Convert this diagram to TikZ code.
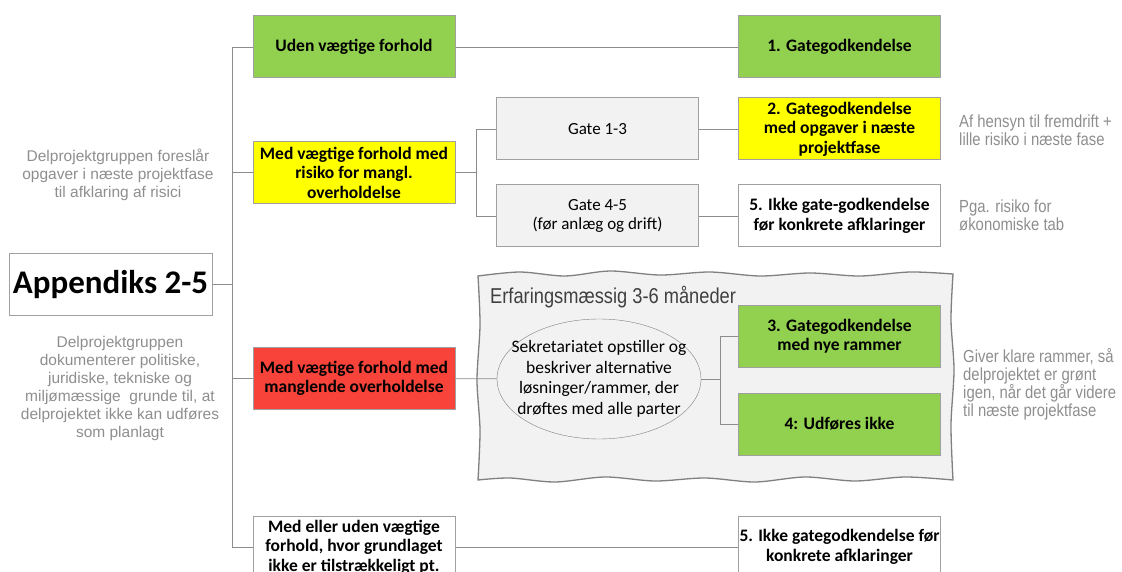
\documentclass[tikz,border=0pt]{standalone}
\usepackage{fontspec}
\setmainfont{Carlito}
\newfontfamily\notefont{Liberation Sans}
\newfontfamily\narrowfont[FakeStretch=0.85]{Liberation Sans}
\usetikzlibrary{shapes.geometric}

\definecolor{boxgreen}{HTML}{92D050}
\definecolor{boxyellow}{HTML}{FFFF00}
\definecolor{boxred}{HTML}{F8433A}
\definecolor{boxgray}{HTML}{F2F2F2}
\definecolor{boxline}{HTML}{A0A0A0}
\definecolor{linegray}{HTML}{8C8C8C}
\definecolor{textgray}{HTML}{8E8E8E}

\begin{document}
\begin{tikzpicture}[x=1pt,y=-1pt,
  box/.style={draw=boxline, line width=1pt, minimum width=202pt, minimum height=62pt,
    inner sep=1pt, align=center, font=\fontsize{17.5}{19.5}\selectfont\bfseries},
  gatebox/.style={box, fill=boxgray, font=\fontsize{17}{19.5}\selectfont},
  conn/.style={draw=linegray, line width=0.9pt},
  note/.style={text=textgray, align=center, font=\notefont\fontsize{15.5}{18}\selectfont},
  sidenote/.style={text=textgray, align=left, anchor=west, inner sep=0pt,
    font=\narrowfont\fontsize{17.5}{18}\selectfont}]

  \useasboundingbox (0,0) rectangle (1122,572);
  \clip (0,0) rectangle (1122,572);

  % Waved frame
  \draw[draw=gray, fill=boxgray, line width=1.3pt]
    plot[smooth] coordinates {(478,276) (520,272) (565,276) (610,271) (660,275) (710,272)
      (760,276) (810,273) (860,276) (910,272) (953,274)}
    -- plot[smooth] coordinates {(953,274) (951,320) (954,370) (951,425) (953,480)}
    -- plot[smooth] coordinates {(953,480) (905,477) (855,481) (805,477) (755,482) (705,478)
      (655,481) (605,477) (555,482) (510,478) (478,480)}
    -- plot[smooth] coordinates {(478,480) (480,430) (477,380) (480,325) (478,276)}
    -- cycle;
  \node[anchor=west, inner sep=0pt, text=black!75,
    font=\narrowfont\fontsize{21.5}{24}\selectfont] (frametitle) at (490,297)
    {Erfaringsmæssig 3-6 måneder};

  % Nodes
  \node[box, minimum width=203pt, font=\fontsize{33}{36}\selectfont\bfseries] (app) at (110.5,284.5) {Appendiks 2-5};
  \node[box, fill=boxgreen] (uden) at (354,47) {Uden vægtige forhold};
  \node[box, fill=boxyellow] (risiko) at (354,172.5) {Med vægtige forhold med\\risiko for mangl.\\overholdelse};
  \node[box, fill=boxred] (mangel) at (354,378.5) {Med vægtige forhold med\\manglende overholdelse};
  \node[box, fill=white] (grundlag) at (354,547) {Med eller uden vægtige\\forhold, hvor grundlaget\\ikke er tilstrækkeligt pt.};

  \node[gatebox] (gate13) at (597.5,129) {Gate 1-3};
  \node[gatebox] (gate45) at (597.5,216) {Gate 4-5\\(før anlæg og drift)};
  \node[ellipse, draw=gray, minimum width=204pt, minimum height=120pt, inner xsep=-16pt,
    inner ysep=0pt, align=center, font=\fontsize{17.5}{20.5}\selectfont] (sekr) at (599,379)
    {Sekretariatet opstiller og\\beskriver alternative\\løsninger/rammer, der\\drøftes med alle parter};

  \node[box, fill=boxgreen] (gg1) at (839.5,47) {1. Gategodkendelse};
  \node[box, fill=boxyellow] (gg2) at (839.5,129) {2. Gategodkendelse\\med opgaver i næste\\projektfase};
  \node[box, fill=white] (ikke1) at (839.5,216) {5. Ikke gate-godkendelse\\før konkrete afklaringer};
  \node[box, fill=boxgreen] (gg3) at (839.5,336) {3. Gategodkendelse\\med nye rammer};
  \node[box, fill=boxgreen] (udf) at (839.5,424) {4: Udføres ikke};
  \node[box, fill=white] (ikke2) at (839.5,547) {5. Ikke gategodkendelse før\\konkrete afklaringer};

  % Notes
  \node[note] (noterisiko) at (118,175) {Delprojektgruppen foreslår\\opgaver i næste projektfase\\til afklaring af risici};
  \node[note] (notemangel) at (120,388) {Delprojektgruppen\\dokumenterer politiske,\\juridiske, tekniske og\\miljømæssige\ \ grunde til, at\\delprojektet ikke kan udføres\\som planlagt};
  \node[sidenote] (notegg2) at (959,130) {Af hensyn til fremdrift +\\lille risiko i næste fase};
  \node[sidenote] (noteikke) at (959,215) {Pga. risiko for\\økonomiske tab};
  \node[sidenote] (notegg3) at (963,384) {Giver klare rammer, så\\delprojektet er grønt\\igen, når det går videre\\til næste projektfase};

  % Connectors
  \coordinate (trunk) at (232,284.5);
  \draw[conn] (app.east) -- (trunk);
  \foreach \b in {uden,risiko,mangel,grundlag}
    \draw[conn] (trunk) |- (\b.west);
  \draw[conn] (uden) -- (gg1);
  \draw[conn] (grundlag) -- (ikke2);

  \coordinate (splitgate) at (476,172.5);
  \draw[conn] (risiko) -- (splitgate);
  \foreach \b in {gate13,gate45}
    \draw[conn] (splitgate) |- (\b.west);
  \draw[conn] (gate13) -- (gg2);
  \draw[conn] (gate45) -- (ikke1);

  \coordinate (splitsekr) at (720,379);
  \draw[conn] (mangel) -- (sekr);
  \draw[conn] (sekr) -- (splitsekr);
  \foreach \b in {gg3,udf}
    \draw[conn] (splitsekr) |- (\b.west);
\end{tikzpicture}
\end{document}
